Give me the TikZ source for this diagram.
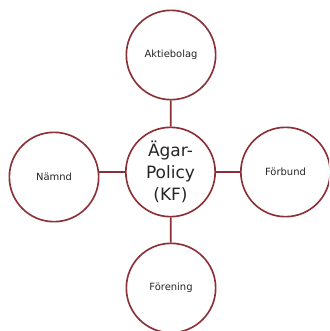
\documentclass[tikz,border=0pt]{standalone}
\usepackage{fontspec}
\setmainfont{DejaVu Sans}
\definecolor{ringred}{RGB}{140,48,56}
\tikzset{
  ring/.style={circle,draw=ringred,line width=1.4pt,fill=white,minimum size=2.68cm,inner sep=0pt,align=center,text=black!85},
  small/.style={font=\fontsize{8.5}{10}\selectfont},
  link/.style={draw=ringred,line width=1.4pt}
}
\begin{document}
\begin{tikzpicture}[x=0.03cm,y=-0.03cm]

\clip (0,0) rectangle (329,331);
\fill[white] (0,0) rectangle (329,331);

% The rings
\node[ring,font=\fontsize{14.5}{19}\selectfont] (policy) at (170.5,172) {Ägar-\\Policy\\(KF)};
\node[ring,small] (ab) at (171,55) {Aktiebolag};
\node[ring,small] (namnd) at (54,177) {Nämnd};
\node[ring,small] (forbund) at (285.5,172) {Förbund};
\node[ring,small] (forening) at (171,288) {Förening};

% The links
\draw[link] (policy) -- (ab);
\draw[link] (policy) -- (forening);
\draw[link] (policy.east) -- (forbund.west);
\draw[link] (policy.west) -- (policy.west -| namnd.east);

\end{tikzpicture}
\end{document}
